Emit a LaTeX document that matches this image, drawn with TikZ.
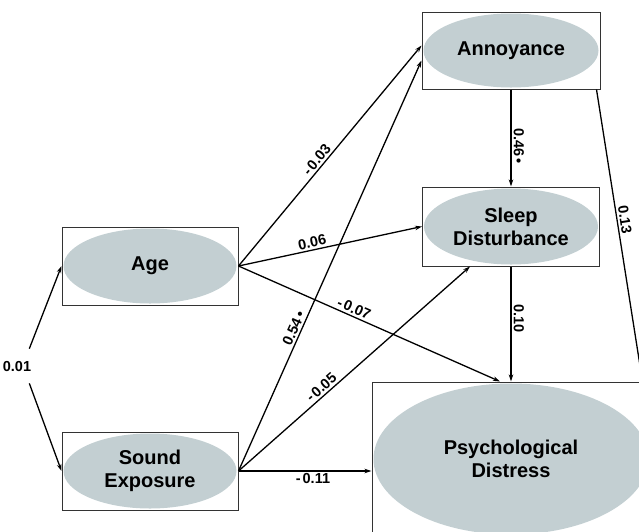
\documentclass[tikz,border=0pt]{standalone}
\usepackage{fontspec}
\setmainfont{Liberation Sans}
\usetikzlibrary{arrows.meta}
\definecolor{ellgrey}{RGB}{195,207,210}
\tikzset{
    latent/.style 2 args={draw=black!80, line width=1pt, inner sep=0pt,
        minimum width=#1pt, minimum height=#2pt, align=center,
        font=\fontsize{20}{23}\selectfont\bfseries,
        path picture={\fill[ellgrey] (path picture bounding box.center)
            ellipse [x radius=#1pt/2-1.5pt, y radius=#2pt/2-1.5pt];}},
    link/.style={-{Stealth[length=7pt,width=4.5pt]}, line width=1.3pt},
    coef/.style={font=\fontsize{14.5}{16}\selectfont\bfseries, sloped, inner sep=2pt}
}
\begin{document}
\begin{tikzpicture}[x=1pt,y=-1pt]
        \useasboundingbox (0,0) rectangle (639,531);
        \clip (0,0) rectangle (639,531);
        %% variables
        \node[latent={176}{78}] (age) at (150,266) {Age};
        \node[latent={176}{78}] (sound) at (150,471) {Sound\\Exposure};
        \node[latent={178}{77}] (ann) at (511,50.5) {Annoyance};
        \node[latent={177}{79}] (sleep) at (511,226.5) {Sleep\\Disturbance};
        \node[latent={278}{154}] (psych) at (511,459) {Psychological\\Distress};
        %% correlation of the exogenous variables
        \node[coef, sloped=false] (corr) at (17,366) {0.01};
        \draw[link] ([shift={(-4,-10)}]corr.north east) -- (age.west);
        \draw[link] ([shift={(-4,10)}]corr.south east) -- (sound.west);
        %% paths from age
        \draw[link] (age.east) -- ([yshift=5pt]ann.west)
            node[coef, pos=0.46, above] {-\kern2pt0.03};
        \draw[link] (age.east) -- (sleep.west)
            node[coef, pos=0.41, above] {0.06};
        \draw[link] (age.east) -- ([xshift=-11pt]psych.north)
            node[coef, pos=0.43, above] {-\kern2pt0.07};
        %% paths from sound exposure
        \draw[link] (sound.east) -- ([yshift=-10pt]ann.west)
            node[coef, pos=0.34, above] {0.54\kern2pt•};
        \draw[link] (sound.east) -- ([xshift=-41pt]sleep.south)
            node[coef, pos=0.38, above] {-\kern2pt0.05};
        \draw[link] (sound.east) -- (psych.west |- sound.east)
            node[coef, pos=0.56, below] {-\kern2pt0.11};
        %% mediators
        \draw[link] (ann.south) -- (sleep.north)
            node[coef, pos=0.58, above] {0.46\kern2pt•};
        \draw[link] (sleep.south) -- (psych.north)
            node[coef, pos=0.45, above] {0.10};
        \draw[link] ([xshift=-4pt]ann.south east) -- ([xshift=-8pt]psych.north east)
            node[coef, pos=0.45, above] {0.13};
    \end{tikzpicture}
\end{document}
